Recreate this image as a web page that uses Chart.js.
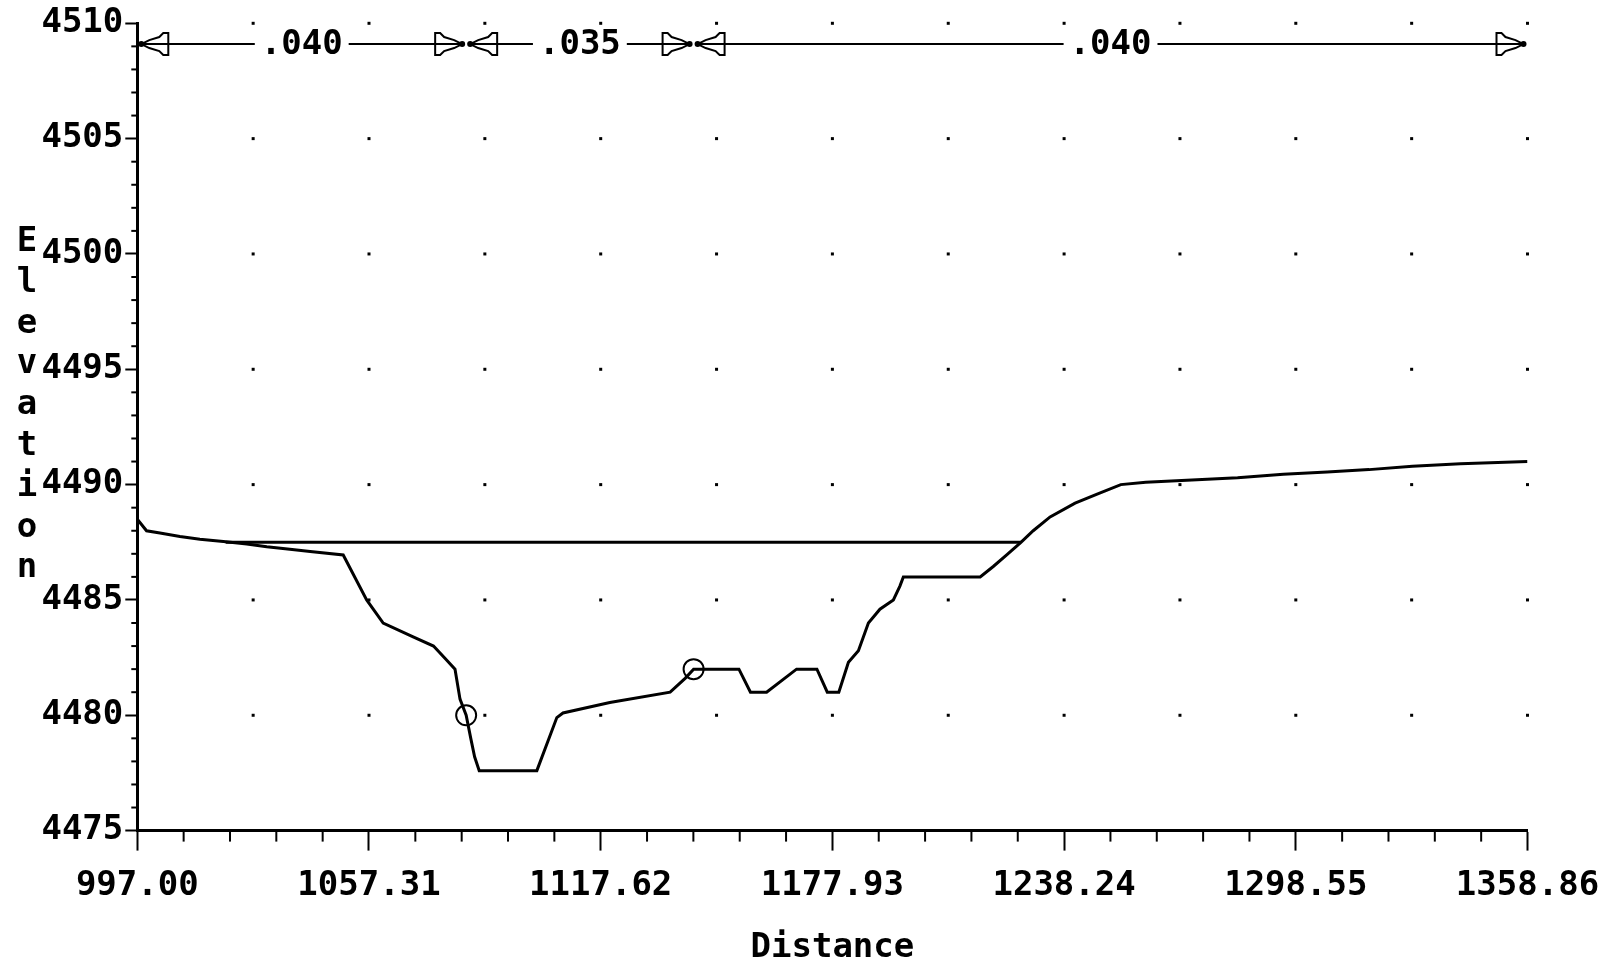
<!DOCTYPE html>
<html><head><meta charset="utf-8">
<script src="https://cdn.jsdelivr.net/npm/chart.js@4/dist/chart.umd.min.js"></script>
<style>html,body{margin:0;padding:0;background:#fff;} #wrap{width:1602px;height:968px;}</style>
</head><body><div id="wrap"><canvas id="c" width="1602" height="968"></canvas></div>
<script>
// ---- data ----
const groundStation = [997, 999.4, 1002.9, 1008.1, 1013.3, 1019.4, 1025.5, 1030.7, 1036.7, 1042.0, 1050.6, 1056.7, 1061.0, 1068.8, 1074.1, 1077.5, 1079.7, 1081.0, 1082.6, 1083.8, 1084.8, 1086.0, 1101.0, 1106.2, 1107.8, 1120.0, 1135.7, 1139.6, 1141.8, 1153.6, 1156.6, 1160.8, 1168.6, 1173.9, 1176.6, 1179.6, 1182.1, 1184.7, 1187.3, 1190.3, 1193.8, 1195.5, 1196.4, 1216.4, 1219.8, 1223.3, 1227.0, 1230.2, 1234.6, 1241.1, 1247.0, 1253.0, 1259.5, 1271.5, 1283.4, 1295.3, 1306.7, 1317.6, 1328.9, 1341.4, 1358.86];
const groundElev = [4488.5, 4488.0, 4487.9, 4487.75, 4487.63, 4487.53, 4487.43, 4487.31, 4487.2, 4487.1, 4486.95, 4485.0, 4484.0, 4483.4, 4483.0, 4482.4, 4482.0, 4480.7, 4480.0, 4479.0, 4478.2, 4477.6, 4477.6, 4479.9, 4480.1, 4480.55, 4481.0, 4481.6, 4482.0, 4482.0, 4481.0, 4481.0, 4482.0, 4482.0, 4481.0, 4481.0, 4482.3, 4482.8, 4484.0, 4484.6, 4485.0, 4485.6, 4486.0, 4486.0, 4486.45, 4486.95, 4487.5, 4488.0, 4488.6, 4489.2, 4489.6, 4490.0, 4490.1, 4490.2, 4490.3, 4490.45, 4490.55, 4490.65, 4490.8, 4490.9, 4491.0];
const wsStation = [1020, 1227];
const wsElev = [4487.5, 4487.5];
const bankStation = [1082.6, 1141.8];
const bankElev = [4480.0, 4482.0];
const nBoundaries = [997, 1082.6, 1141.8, 1358.86];
const nValues = ['.040', '.035', '.040'];
const nBandElev = 4509.1;
const xTickValues = [997.00, 1057.31, 1117.62, 1177.93, 1238.24, 1298.55, 1358.86];
const yTickValues = [4475, 4480, 4485, 4490, 4495, 4500, 4505, 4510];
const yTitle = 'Elevation';
const xTitle = 'Distance';

const FONT = '"DejaVu Sans Mono", monospace';
const toXY = (xs, ys) => xs.map((v, i) => ({x: v, y: ys[i]}));

function arrowHead(ctx, tipX, y, dir) { // dir = +1 points right, -1 points left
  const s = -dir;
  ctx.beginPath();
  ctx.moveTo(tipX, y);
  ctx.lineTo(tipX + s*8, y - 4);
  ctx.lineTo(tipX + s*18, y - 7);
  ctx.lineTo(tipX + s*22, y - 11);
  ctx.lineTo(tipX + s*27, y - 11);
  ctx.lineTo(tipX + s*27, y + 11);
  ctx.lineTo(tipX + s*22, y + 11);
  ctx.lineTo(tipX + s*18, y + 7);
  ctx.lineTo(tipX + s*8, y + 4);
  ctx.closePath();
  ctx.stroke();
  ctx.beginPath(); ctx.arc(tipX, y, 3, 0, Math.PI*2); ctx.fill();
}

const decor = {
  id: 'decor',
  beforeDatasetsDraw(chart) {
    const {ctx, scales: {x, y}, chartArea: a} = chart;
    ctx.save();
    ctx.fillStyle = '#000';
    const half = (xTickValues[1] - xTickValues[0]) / 2;
    for (const yv of yTickValues) {
      if (yv === y.min) continue;
      const py = y.getPixelForValue(yv);
      for (let k = 1; k <= 12; k++) {
        const px = x.getPixelForValue(x.min + k * half);
        ctx.fillRect(px - 1.5, py - 1.5, 3, 3);
      }
    }
    ctx.strokeStyle = '#000'; ctx.lineWidth = 2;
    const xStep = (xTickValues[1] - xTickValues[0]) / 5;
    for (let k = 0; k <= 30; k++) {
      if (k % 5 === 0) continue;
      const px = x.getPixelForValue(x.min + k * xStep);
      ctx.beginPath(); ctx.moveTo(px, a.bottom); ctx.lineTo(px, a.bottom + 11); ctx.stroke();
    }
    for (let v = y.min; v <= y.max; v++) {
      if ((v - y.min) % 5 === 0) continue;
      const py = y.getPixelForValue(v);
      ctx.beginPath(); ctx.moveTo(a.left, py); ctx.lineTo(a.left - 6, py); ctx.stroke();
    }
    ctx.restore();
  },
  afterDraw(chart) {
    const {ctx, scales: {x, y}} = chart;
    ctx.save();
    ctx.strokeStyle = '#000'; ctx.fillStyle = '#000'; ctx.lineWidth = 2;
    ctx.font = 'bold 34px ' + FONT;
    ctx.textAlign = 'center'; ctx.textBaseline = 'middle';
    const py = y.getPixelForValue(nBandElev);
    for (let i = 0; i < nValues.length; i++) {
      const x0 = x.getPixelForValue(nBoundaries[i]) + 4;
      const x1 = x.getPixelForValue(nBoundaries[i + 1]) - 4;
      const cx = (x0 + x1) / 2;
      const w = ctx.measureText(nValues[i]).width;
      ctx.beginPath(); ctx.moveTo(x0, py); ctx.lineTo(cx - w/2 - 6, py); ctx.stroke();
      ctx.beginPath(); ctx.moveTo(cx + w/2 + 6, py); ctx.lineTo(x1, py); ctx.stroke();
      arrowHead(ctx, x0, py, -1);
      arrowHead(ctx, x1, py, 1);
      ctx.fillText(nValues[i], cx, py + 1);
    }
    // stacked y title
    ctx.textBaseline = 'alphabetic';
    for (let i = 0; i < yTitle.length; i++) {
      ctx.fillText(yTitle[i], 27, 251 + i * 40.8);
    }
    ctx.restore();
  }
};

new Chart(document.getElementById('c'), {
  type: 'scatter',
  data: {
    datasets: [
      {data: toXY(groundStation, groundElev), showLine: true, borderColor: '#000', borderWidth: 3, pointRadius: 0, tension: 0},
      {data: toXY(wsStation, wsElev), showLine: true, borderColor: '#000', borderWidth: 3, pointRadius: 0},
      {data: toXY(bankStation, bankElev), showLine: false, pointStyle: 'circle', pointRadius: 10, borderColor: '#000', borderWidth: 2, backgroundColor: 'rgba(0,0,0,0)'}
    ]
  },
  options: {
    responsive: false, animation: false, devicePixelRatio: 1,
    layout: {padding: {left: 0, right: 74.5, top: 23.3, bottom: 0}},
    plugins: {legend: {display: false}, tooltip: {enabled: false}},
    scales: {
      x: {
        type: 'linear', min: 997, max: 1358.86,
        afterBuildTicks: s => { s.ticks = xTickValues.map(v => ({value: v})); },
        afterFit: s => { s.height = 137.4; s.paddingLeft = 0; s.paddingRight = 0; },
        ticks: {callback: v => Number(v).toFixed(2), font: {family: FONT, size: 34, weight: 'bold'}, color: '#000', maxRotation: 0, autoSkip: false, padding: 15},
        grid: {drawOnChartArea: false, drawTicks: true, tickLength: 20, tickWidth: 2, tickColor: '#000'},
        border: {color: '#000', width: 3},
        title: {display: true, text: xTitle, color: '#000', font: {family: FONT, size: 34, weight: 'bold', lineHeight: 1}, padding: {top: 0, bottom: 3}}
      },
      y: {
        type: 'linear', min: 4475, max: 4510,
        afterBuildTicks: s => { s.ticks = yTickValues.map(v => ({value: v})); },
        afterFit: s => { s.width = 137.3; s.paddingTop = 0; s.paddingBottom = 0; },
        ticks: {callback: v => String(v), font: {family: FONT, size: 34, weight: 'bold'}, color: '#000', padding: 2},
        grid: {drawOnChartArea: false, drawTicks: true, tickLength: 12, tickWidth: 2, tickColor: '#000'},
        border: {color: '#000', width: 3}
      }
    }
  },
  plugins: [decor]
});
</script>
</body></html>
